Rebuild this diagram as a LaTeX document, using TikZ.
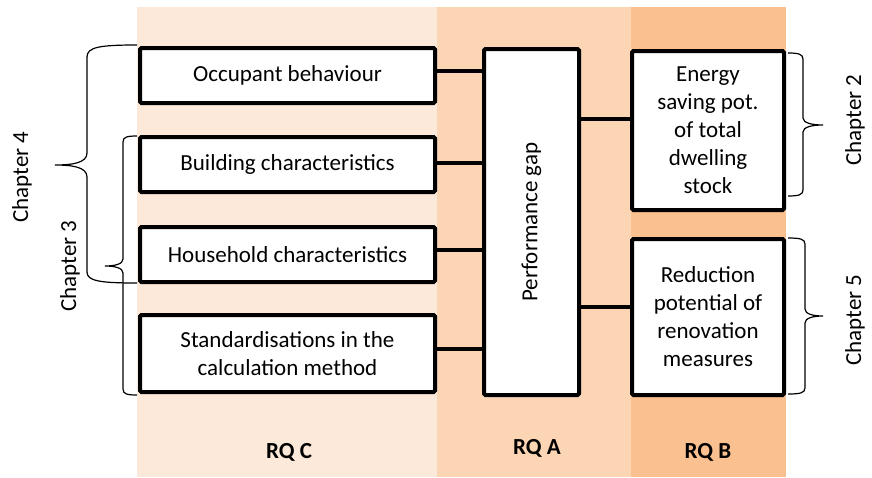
\documentclass[tikz,border=0pt]{standalone}
\usepackage{fontspec}
\setmainfont{Carlito}
\begin{document}
\begin{tikzpicture}[x=1pt,y=-1pt,
  every node/.style={font=\fontsize{23}{28}\selectfont, inner sep=0pt, outer sep=0pt},
  bx/.style={draw=black, line width=4pt, fill=white, rounded corners=1.5pt, align=center},
  conn/.style={draw=black, line width=4pt},
  brace/.style={draw=black, line width=1.2pt},
  rq/.style={font=\fontsize{23}{28}\selectfont\bfseries},
  chap/.style={rotate=90}]
\useasboundingbox (0,0) rectangle (872,477);
% bands
\fill[fill={rgb,255:red,253;green,233;blue,217}] (137,7) rectangle (437,477);
\fill[fill={rgb,255:red,252;green,213;blue,180}] (437,7) rectangle (631,477);
\fill[fill={rgb,255:red,250;green,192;blue,144}] (631,7) rectangle (786,477);
% left boxes
\node[bx, minimum width=295pt, minimum height=55pt] (occ) at (287.5,75.5) {Occupant behaviour};
\node[bx, minimum width=295pt, minimum height=55pt] (bld) at (287.5,164.5) {Building characteristics};
\node[bx, minimum width=295pt, minimum height=55pt] (hh) at (287.5,254.5) {Household characteristics};
\node[bx, minimum width=295pt, minimum height=77pt] (std) at (287.5,353.5) {Standardisations in the\\calculation method};
% centre
\node[bx, minimum width=95pt, minimum height=346pt] (perf) at (531.5,222) {};
\node[rotate=90] (perft) at (perf.center) {Performance gap};
% right boxes
\node[bx, minimum width=152pt, minimum height=159pt] (esp) at (708,130.5) {Energy\\saving pot.\\of total\\dwelling\\stock};
\node[bx, minimum width=152pt, minimum height=156pt] (red) at (708,317) {Reduction\\potential of\\renovation\\measures};
% connectors
\draw[conn] ([yshift=4.5pt]occ.east) -- ([yshift=4.5pt]occ.east -| perf.west);
\draw[conn] ([yshift=1.5pt]bld.east) -- ([yshift=1.5pt]bld.east -| perf.west);
\draw[conn] ([yshift=4.5pt]hh.east) -- ([yshift=4.5pt]hh.east -| perf.west);
\draw[conn] ([yshift=5pt]std.east) -- ([yshift=5pt]std.east -| perf.west);
\draw[conn] ([yshift=11.5pt]esp.west -| perf.east) -- ([yshift=11.5pt]esp.west);
\draw[conn] ([yshift=10pt]red.west -| perf.east) -- ([yshift=10pt]red.west);
% RQ labels
\node[rq] (rqc) at (289,452) {RQ C};
\node[rq] (rqa) at (537,448) {RQ A};
\node[rq] (rqb) at (708,452) {RQ B};
% braces left
\draw[brace] (137,45) .. controls (100,45) and (87,47) .. (87,57) -- (87,153)
  .. controls (87,163) and (72,165) .. (55,165) .. controls (72,165) and (87,167) .. (87,177)
  -- (87,272) .. controls (87,281) and (100,283) .. (137,283);
\draw[brace] (137,136) .. controls (127,136) and (123,137) .. (123,142) -- (123,259)
  .. controls (123,264) and (115,266) .. (105,266) .. controls (115,266) and (123,268) .. (123,273)
  -- (123,389) .. controls (123,394) and (127,395) .. (137,395);
% braces right
\draw[brace] (788,53) .. controls (798,53) and (803,54) .. (803,59) -- (803,118)
  .. controls (803,123) and (812,125) .. (823,125) .. controls (812,125) and (803,127) .. (803,132)
  -- (803,190) .. controls (803,195) and (798,196) .. (788,196);
\draw[brace] (788,238) .. controls (800,238) and (805,239) .. (805,244) -- (805,309)
  .. controls (805,314) and (813,316) .. (823,316) .. controls (813,316) and (805,318) .. (805,323)
  -- (805,388) .. controls (805,393) and (800,394) .. (788,394);
% chapter labels
\node[chap] (c4) at (22,177) {Chapter 4};
\node[chap] (c3) at (70,266) {Chapter 3};
\node[chap] (c2) at (855,120) {Chapter 2};
\node[chap] (c5) at (855,320) {Chapter 5};
\end{tikzpicture}
\end{document}
